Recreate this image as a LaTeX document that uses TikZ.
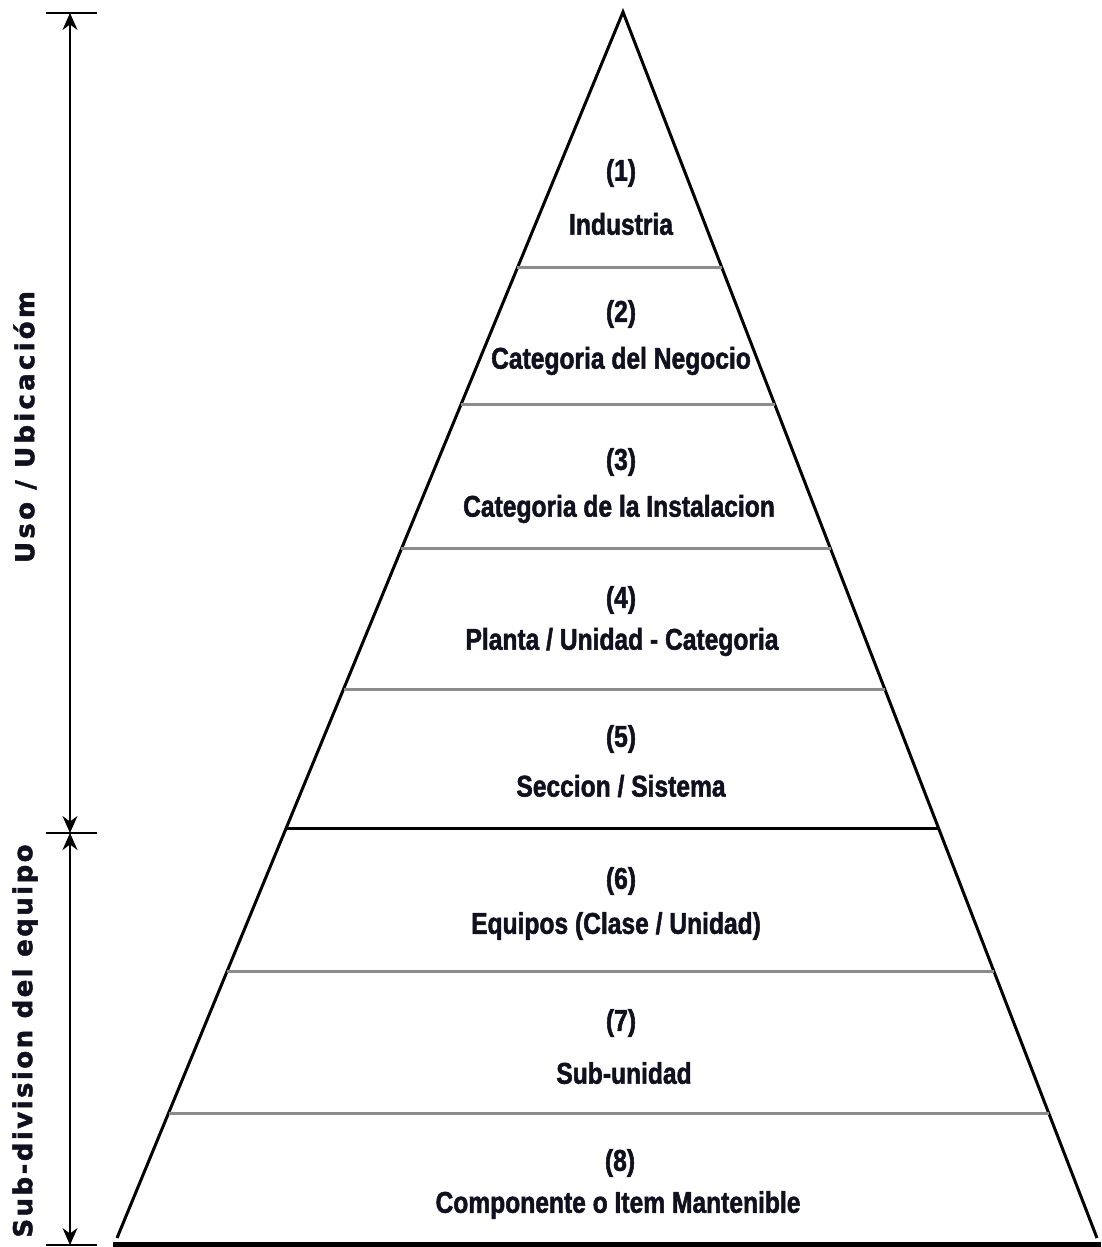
\documentclass[tikz,border=0pt]{standalone}
\usepackage{fontspec}
\usetikzlibrary{calc,arrows.meta}
\newfontfamily\narrowfont[FakeStretch=0.82,BoldFont={Liberation Sans Bold},BoldFeatures={FakeStretch=0.82,FakeBold=1.6}]{Liberation Sans}
\newfontfamily\sidefontA[LetterSpace=12.5,FakeBold=1.8]{DejaVu Sans Bold}
\newfontfamily\sidefontB[LetterSpace=9.4,FakeBold=1.8]{DejaVu Sans Bold}
\definecolor{ink}{HTML}{10101F}
\definecolor{divgray}{HTML}{8C8C8C}
\tikzset{
  lvl/.style={text=ink,align=center,font=\narrowfont\bfseries\fontsize{30}{34}\selectfont},
  num/.style={text=ink,font=\narrowfont\bfseries\fontsize{30}{34}\selectfont},
  sideA/.style={text=ink,rotate=90,font=\sidefontA\fontsize{26}{29}\selectfont},
  sideB/.style={text=ink,rotate=90,font=\sidefontB\fontsize{26}{29}\selectfont},
  edge/.style={line width=3pt,black,line join=miter},
  divider/.style={line width=3pt,divgray},
  divblack/.style={line width=3pt,black},
  tick/.style={line width=2.5pt,black},
  dim/.style={line width=1.6pt,black,{Stealth[length=17pt,width=15pt]}-{Stealth[length=17pt,width=15pt]}}
}
\begin{document}
\begin{tikzpicture}[x=1pt,y=-1pt]
\useasboundingbox (0,0) rectangle (1101,1247);
% pyramid
\coordinate (A) at (623,12);
\coordinate (L) at (117,1238);
\coordinate (R) at (1097,1238);
\draw[edge] (L) -- (A) -- (R);
\draw[line width=5pt,black] (113,1244.5) -- (1101,1244.5);
% dividers
\foreach \y/\s in {268/divider,405/divider,549/divider,689/divider,828/divblack,971/divider,1113/divider}{
  \draw[\s] ($(A)!{(\y-12)/1226}!(L)$) -- ($(A)!{(\y-12)/1226}!(R)$);
}
% level texts
\node[num] (n1) at (621,173) {(1)};
\node[lvl] (t1) at (621,224) {Industria};
\node[num] (n2) at (621,314) {(2)};
\node[lvl] (t2) at (621,361) {Categoria del Negocio};
\node[num] (n3) at (621,462) {(3)};
\node[lvl] (t3) at (619,509) {Categoria de la Instalacion};
\node[num] (n4) at (621,600) {(4)};
\node[lvl] (t4) at (622,642) {Planta / Unidad - Categoria};
\node[num] (n5) at (621,739) {(5)};
\node[lvl] (t5) at (621,786) {Seccion / Sistema};
\node[num] (n6) at (621,881) {(6)};
\node[lvl] (t6) at (616,926) {Equipos (Clase / Unidad)};
\node[num] (n7) at (621,1023) {(7)};
\node[lvl] (t7) at (624,1073) {Sub-unidad};
\node[num] (n8) at (620,1163) {(8)};
\node[lvl] (t8) at (618,1205) {Componente o Item Mantenible};
% dimension ticks
\coordinate (k1a) at (46,13);   \coordinate (k1b) at (97,13);
\coordinate (k2a) at (46,833);  \coordinate (k2b) at (97,833);
\coordinate (k3a) at (46,1245); \coordinate (k3b) at (97,1245);
\draw[tick] (k1a) -- (k1b);
\draw[tick] (k2a) -- (k2b);
\draw[tick] (k3a) -- (k3b);
\coordinate (d1) at (70,13);
\coordinate (d2) at (70,833);
\coordinate (d3) at (70,1245);
\draw[dim] (d1) -- (d2);
\draw[dim] (d2) -- (d3);
% side labels
\node[sideA] (s1) at (25,427) {Uso / Ubicacióm};
\node[sideB] (s2) at (25,1041) {Sub-division del equipo};
\end{tikzpicture}
\end{document}
